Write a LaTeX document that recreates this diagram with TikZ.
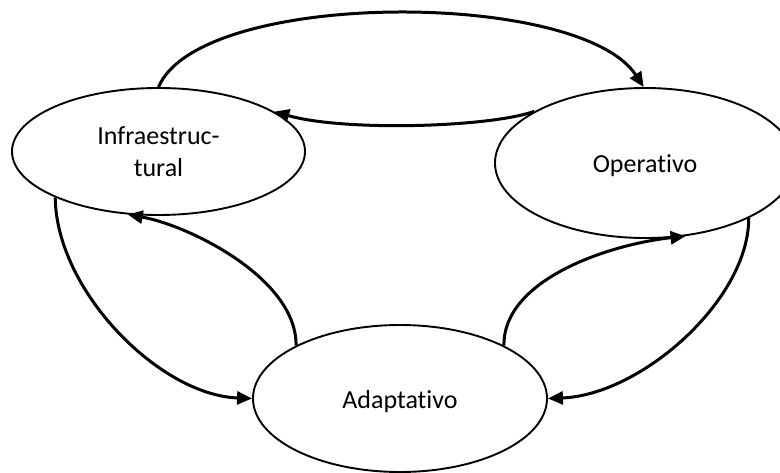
\documentclass[tikz,border=0pt]{standalone}
\usepackage{fontspec}
\setmainfont{Carlito}[Ligatures=NoCommon]
\usetikzlibrary{shapes.geometric,arrows.meta}
\begin{document}
\begin{tikzpicture}[x=1pt,y=-1pt,
  stage/.style={ellipse, draw, line width=1.9pt, inner sep=0pt, fill=white,
    font=\fontsize{26}{32}\selectfont, align=center},
  oneline/.style={text height=20pt, text depth=0pt},
  flow/.style={line width=3pt, -{Triangle[length=15pt,width=13pt]}}]
  \useasboundingbox (0,0) rectangle (780,473);
  \clip (0,0) rectangle (780,473);

  % the three stages
  \node[stage, minimum width=293pt, minimum height=127pt] (inf) at (158.5,151.5) {Infraestruc-\\tural};
  \node[stage, oneline, minimum width=300pt, minimum height=150pt] (op) at (645,163) {Operativo};
  \node[stage, oneline, minimum width=294pt, minimum height=147pt] (ad) at (400,398.5) {Adaptativo};

  % top loop between Infraestructural and Operativo
  \draw[flow] (inf.90) .. controls +(41.5,-98) and +(-64,-98) .. (op.91);
  \draw[flow] (op.155) .. controls +(-45,16) and +(70,20) .. (inf.19.5);

  % left loop between Infraestructural and Adaptativo
  \draw[flow] (inf.204) .. controls +(1,93) and +(-93,-3.5) .. (ad.180);
  \draw[flow] (ad.153) .. controls +(1,-66.5) and +(62,11) .. (inf.244);

  % right loop between Adaptativo and Operativo
  \draw[flow] (ad.27) .. controls +(-1,-66.5) and +(-75,8) .. (op.299);
  \draw[flow] (op.332) .. controls +(0,82) and +(93,-3.5) .. (ad.0);
\end{tikzpicture}
\end{document}
